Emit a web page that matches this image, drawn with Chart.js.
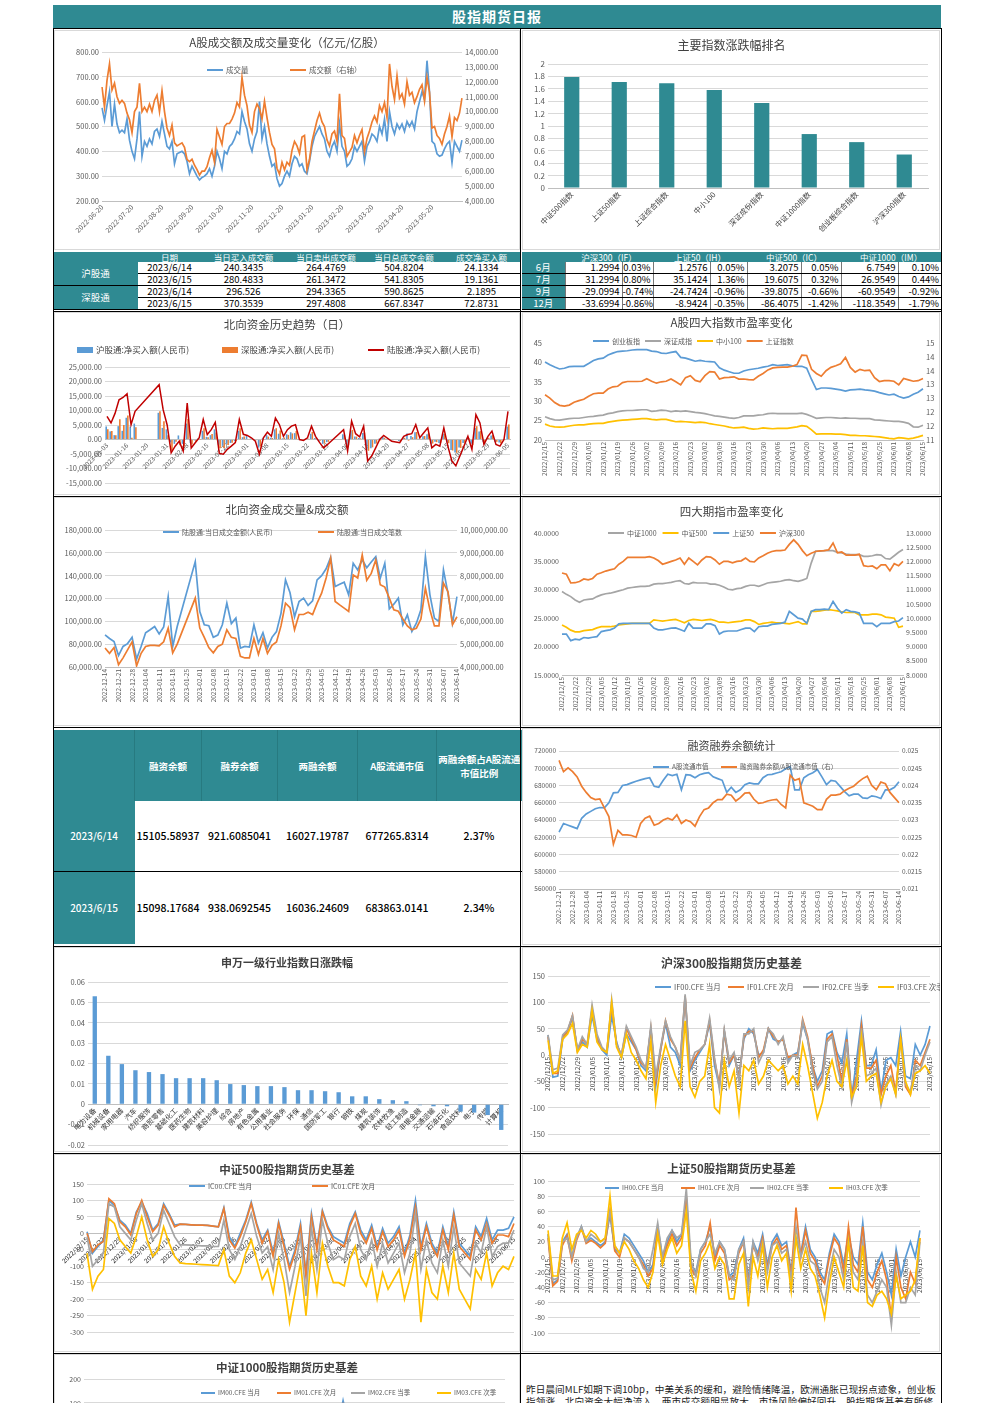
<!DOCTYPE html>
<html><head><meta charset="utf-8">
<script src="https://cdn.jsdelivr.net/npm/chart.js@4.4.0/dist/chart.umd.min.js"></script>
<style>
body{margin:0;width:992px;height:1403px;overflow:hidden;background:#fff;position:relative;font-family:"Noto Sans CJK SC","Noto Sans",sans-serif}
canvas{position:absolute}
.d{position:absolute}
.hdr{left:53px;top:5px;width:888px;height:23px;background:#2F8A92;color:#fff;font-size:14px;font-weight:bold;text-align:center;line-height:23px;letter-spacing:1px}
.bk{position:absolute;background:#000}
.pn{position:absolute;border:1px solid #D9D9D9;box-sizing:border-box}
table.t{position:absolute;border-collapse:collapse;table-layout:fixed;font-size:9.5px;color:#000}
table.t td{padding:0;text-align:center;white-space:nowrap;overflow:hidden;height:11px;line-height:11px;border-bottom:1px solid #000}
table.t tr.h td{background:#2F8A92;color:#fff;font-size:8.5px;height:10px;line-height:10px;border-bottom:none}
table.t td.lab{background:#2F8A92;color:#fff;font-size:9.5px}
table.t td.r{text-align:right;padding-right:2px;border-left:1px solid #777}
table.t2{position:absolute;border-collapse:collapse;table-layout:fixed;color:#000}
table.t2 td{padding:0 1px;text-align:center;font-size:10.5px;font-weight:500;white-space:nowrap;overflow:hidden}
table.t2 tr.h td{background:#2F8A92;color:#fff;font-size:9.5px;font-weight:bold;white-space:normal;line-height:14px;border-left:1px solid #277a80}
table.t2 td.lab{background:#2F8A92;color:#fff;font-size:10px}
.txt{left:526px;top:1383px;width:414px;font-size:9.6px;line-height:12px;color:#222;letter-spacing:0.1px}
</style></head><body>
<div class="d hdr">股指期货日报</div>

<div class="pn" style="left:54px;top:30px;width:466px;height:220px"></div>
<div class="pn" style="left:522px;top:30px;width:418px;height:220px"></div>
<div class="pn" style="left:54px;top:312px;width:466px;height:183px"></div>
<div class="pn" style="left:522px;top:312px;width:418px;height:183px"></div>
<div class="pn" style="left:54px;top:497px;width:466px;height:229px"></div>
<div class="pn" style="left:522px;top:497px;width:418px;height:229px"></div>
<div class="pn" style="left:522px;top:728px;width:418px;height:217px"></div>
<div class="pn" style="left:54px;top:947px;width:466px;height:205px"></div>
<div class="pn" style="left:522px;top:947px;width:418px;height:205px"></div>
<div class="pn" style="left:54px;top:1154px;width:466px;height:198px"></div>
<div class="pn" style="left:522px;top:1154px;width:418px;height:198px"></div>
<div class="pn" style="left:54px;top:1354px;width:466px;height:60px"></div>

<table class="t" style="left:53px;top:252px;width:468px">
<colgroup><col style="width:85px"><col style="width:63px"><col style="width:85px"><col style="width:80px"><col style="width:76px"><col style="width:79px"></colgroup>
<tr class="h"><td></td><td>日期</td><td>当日买入成交额</td><td>当日卖出成交额</td><td>当日总成交金额</td><td>成交净买入额</td></tr>
<tr><td class="lab" rowspan="2">沪股通</td><td>2023/6/14</td><td>240.3435</td><td>264.4769</td><td>504.8204</td><td>24.1334</td></tr>
<tr><td>2023/6/15</td><td>280.4833</td><td>261.3472</td><td>541.8305</td><td>19.1361</td></tr>
<tr><td class="lab" rowspan="2">深股通</td><td>2023/6/14</td><td>296.526</td><td>294.3365</td><td>590.8625</td><td>2.1895</td></tr>
<tr><td>2023/6/15</td><td>370.3539</td><td>297.4808</td><td>667.8347</td><td>72.8731</td></tr>
</table>

<table class="t" style="left:522px;top:252px;width:419px">
<colgroup><col style="width:43px"><col style="width:57px"><col style="width:31px"><col style="width:57px"><col style="width:37px"><col style="width:54px"><col style="width:40px"><col style="width:57px"><col style="width:43px"></colgroup>
<tr class="h"><td></td><td colspan="2">沪深300（IF）</td><td colspan="2">上证50（IH）</td><td colspan="2">中证500（IC）</td><td colspan="2">中证1000（IM）</td></tr>
<tr><td class="lab">6月</td><td class="r">1.2994</td><td class="r">0.03%</td><td class="r">1.2576</td><td class="r">0.05%</td><td class="r">3.2075</td><td class="r">0.05%</td><td class="r">6.7549</td><td class="r">0.10%</td></tr>
<tr><td class="lab">7月</td><td class="r">31.2994</td><td class="r">0.80%</td><td class="r">35.1424</td><td class="r">1.36%</td><td class="r">19.6075</td><td class="r">0.32%</td><td class="r">26.9549</td><td class="r">0.44%</td></tr>
<tr><td class="lab">9月</td><td class="r">-29.0994</td><td class="r">-0.74%</td><td class="r">-24.7424</td><td class="r">-0.96%</td><td class="r">-39.8075</td><td class="r">-0.66%</td><td class="r">-60.9549</td><td class="r">-0.92%</td></tr>
<tr><td class="lab">12月</td><td class="r">-33.6994</td><td class="r">-0.86%</td><td class="r">-8.9424</td><td class="r">-0.35%</td><td class="r">-86.4075</td><td class="r">-1.42%</td><td class="r">-118.3549</td><td class="r">-1.79%</td></tr>
</table>

<table class="t2" style="left:53px;top:730px;width:468px;height:214px">
<colgroup><col style="width:81px"><col style="width:67px"><col style="width:76px"><col style="width:80px"><col style="width:79px"><col style="width:85px"></colgroup>
<tr class="h" style="height:71px"><td></td><td>融资余额</td><td>融券余额</td><td>两融余额</td><td>A股流通市值</td><td>两融余额占A股流通市值比例</td></tr>
<tr style="height:70px;border-bottom:1px solid #000"><td class="lab">2023/6/14</td><td>15105.58937</td><td>921.6085041</td><td>16027.19787</td><td>677265.8314</td><td>2.37%</td></tr>
<tr style="height:73px"><td class="lab">2023/6/15</td><td>15098.17684</td><td>938.0692545</td><td>16036.24609</td><td>683863.0141</td><td>2.34%</td></tr>
</table>

<div class="d txt">昨日晨间MLF如期下调10bp，中美关系的缓和，避险情绪降温，欧洲通胀已现拐点迹象，创业板指领涨，北向资金大幅净流入，两市成交额明显放大，市场风险偏好回升，股指期货基差有所修复。</div>

<div class="bk" style="left:53px;top:28px;width:889px;height:1px"></div>
<div class="bk" style="left:53px;top:28px;width:1px;height:1375px"></div>
<div class="bk" style="left:941px;top:28px;width:1px;height:1375px"></div>
<div class="bk" style="left:520px;top:28px;width:1px;height:1375px"></div>
<div class="bk" style="left:53px;top:311px;width:889px;height:1px"></div>
<div class="bk" style="left:53px;top:496px;width:889px;height:1px"></div>
<div class="bk" style="left:53px;top:727px;width:889px;height:1px"></div>
<div class="bk" style="left:53px;top:946px;width:889px;height:1px"></div>
<div class="bk" style="left:53px;top:1153px;width:889px;height:1px"></div>
<div class="bk" style="left:53px;top:1353px;width:889px;height:1px"></div>

<script>
// ---------- DATA ----------
const volTicks = ['2022-06-20','2022-07-20','2022-08-20','2022-09-20','2022-10-20','2022-11-20','2022-12-20','2023-01-20','2023-02-20','2023-03-20','2023-04-20','2023-05-20'];
const volume = [575,525,585,640,500,590,510,475,485,475,530,445,400,370,450,560,380,440,420,450,430,480,490,460,520,470,420,410,440,350,390,395,400,390,360,310,340,320,300,285,295,300,310,330,300,340,400,370,330,400,390,420,430,450,480,470,560,520,490,430,400,450,480,600,450,500,430,380,340,350,290,260,270,300,320,300,350,380,370,340,350,320,310,360,420,460,480,500,470,450,400,380,420,440,400,510,420,400,340,350,370,420,400,420,440,360,420,440,470,460,440,500,470,530,440,560,500,470,510,490,510,480,520,500,520,490,560,600,640,610,765,640,440,430,390,380,385,410,430,440,355,440,420,400,445];
const turnover = [11650,10300,12100,13200,11450,11900,11000,10550,10750,10550,9900,9450,8600,10000,10300,11900,10000,10300,10000,10500,10000,10750,11100,10000,11400,10000,8900,8400,9100,7900,7700,7800,7900,7600,6800,6650,6800,6400,6100,5750,6000,6000,6300,6900,7400,6600,8800,8300,7800,9000,9200,9200,9500,9900,10600,10300,12300,11100,10400,9100,8600,10000,10500,10200,9500,10700,9600,8600,7800,7500,6200,5800,6600,6100,6600,6400,7400,8000,7700,7200,8300,8400,6100,6800,8000,8700,9400,9900,9300,9000,8100,7700,8500,8700,8000,11200,8400,8200,7000,7300,7600,8400,7900,8400,8800,7300,8200,8700,9300,9700,9300,10400,10000,10600,9600,13200,11700,10800,12400,10900,11200,10500,12000,11100,11300,10600,11000,11500,11800,10700,12300,11300,8900,9000,8400,8200,7800,8500,9000,9700,8300,9600,9400,9900,10900];

const idxNames = ['中证500指数','上证50指数','上证综合指数','中小100','深证成份指数','中证1000指数','创业板综合指数','沪深300指数'];
const idxChg = [1.79,1.71,1.69,1.58,1.37,0.87,0.74,0.54];

const nbTicks = ['2023-01-03','2023-01-16','2023-01-20','2023-01-31','2023-02-08','2023-02-15','2023-02-22','2023-03-01','2023-03-08','2023-03-15','2023-03-22','2023-03-29','2023-04-06','2023-04-13','2023-04-20','2023-04-27','2023-05-08','2023-05-15','2023-05-22','2023-05-29','2023-06-05'];
const n = null;
const nbHu = [4500,2800,1500,4600,3000,7500,4500,5500,n,n,n,n,n,9200,4000,3500,-1000,-1500,1400,-1500,5500,-1200,-300,500,3000,900,1500,3500,-1800,-2200,-1500,-1200,-500,3000,800,1400,300,-300,-2800,400,1500,600,3500,2000,400,1800,2500,2200,200,-200,300,2000,500,-600,-1500,-900,n,n,n,1800,-2000,3000,1000,500,2200,-3500,-3000,-1500,300,800,n,-400,n,-500,500,2100,1200,2500,300,1100,1800,-1500,-800,-1200,2000,-1000,-3600,-4500,-2800,-1200,600,-1500,4000,2800,-800,500,1400,-900,-1000,200,4500];
const nbShen = [3500,2900,1500,7000,5000,8300,600,4200,n,n,n,n,n,9700,6300,1500,-3600,-800,-2000,-2500,7100,-1700,-800,100,3900,800,1900,2400,-3000,-2900,-1900,-1100,-600,3900,1000,0,300,-300,-2300,200,1000,500,3900,3100,700,1600,2100,2900,-200,-100,300,2600,600,-400,-1400,-800,n,n,n,1600,-2000,3300,1000,400,2400,-3900,-2700,-1400,-300,600,n,-200,n,-600,600,-400,800,2600,300,1200,2200,-1400,-900,-1100,2000,-1300,-3800,-4600,-2900,-1100,500,-1900,4600,2900,-900,600,1500,-800,-1300,-200,5200];
const nbLu = [8000,5700,9000,13700,14500,15800,5100,9700,n,n,n,n,n,18900,10300,5000,-4600,-2300,-600,-4000,12600,-2900,-1100,600,6900,1700,3400,5900,-4800,-5100,-3400,-2300,-1100,6900,1800,1400,600,-600,-5100,600,2500,1100,7400,5100,1100,3400,4600,5100,0,-300,600,4600,1100,-1000,-2900,-1700,n,n,n,3400,-4000,6300,2000,900,4600,-7400,-5700,-2900,0,1400,n,-600,n,-1100,1100,1700,2000,5100,600,2300,4000,-2900,-1700,-2300,4000,-2300,-7400,-9100,-5700,-2300,1100,-3400,8600,5700,-1700,1100,2900,-1700,-2300,0,9700];

const weekTicks = ['2022/12/15','2022/12/22','2022/12/29','2023/01/05','2023/01/12','2023/01/19','2023/01/26','2023/02/02','2023/02/09','2023/02/16','2023/02/23','2023/03/02','2023/03/09','2023/03/16','2023/03/23','2023/03/30','2023/04/06','2023/04/13','2023/04/20','2023/04/27','2023/05/04','2023/05/11','2023/05/18','2023/05/25','2023/06/01','2023/06/08','2023/06/15'];
const peCYB = [40.1,39.4,38.8,38.3,38.5,38.9,39.0,39.0,39.0,39.7,40.5,40.9,41.1,41.9,42.4,42.8,42.9,43.0,43.2,43.3,43.3,43.3,42.9,42.8,42.4,42.3,42.6,42.8,41.3,41.1,40.7,40.3,40.5,40.3,40.2,40.1,38.6,38.0,37.6,37.2,37.2,37.8,38.1,38.3,38.5,38.8,39.0,39.4,39.2,39.3,39.4,39.1,39.0,39.0,38.5,35.6,33.0,33.4,33.4,33.3,33.1,32.9,32.6,32.9,33.0,33.1,32.9,32.8,32.6,32.2,31.9,31.6,31.8,31.2,30.8,31.1,31.8,32.3,33.2];
const peSZ = [26.0,25.5,25.2,25.1,25.3,25.5,25.6,25.6,25.8,26.0,26.1,26.3,26.4,26.8,27.0,27.3,27.5,27.6,27.6,27.7,27.8,27.8,27.4,27.5,27.7,27.6,27.3,27.5,27.4,27.5,27.3,27.1,27.0,26.8,26.5,26.2,26.1,25.9,25.7,25.6,25.8,26.2,26.2,26.2,26.4,26.5,26.8,26.9,26.8,26.8,26.8,26.8,26.8,26.9,26.6,26.1,25.6,25.7,25.8,25.8,25.7,25.6,25.7,25.6,25.6,25.5,25.5,25.5,25.2,25.1,25.0,24.9,24.8,24.8,24.6,24.3,23.4,23.3,23.8];
const peZX = [24.1,23.6,23.4,23.3,23.4,23.6,23.8,23.9,23.9,24.1,24.2,24.3,24.3,24.6,24.8,25.0,25.1,25.2,25.3,25.4,25.5,25.5,25.3,25.2,25.3,25.3,25.0,24.7,24.8,24.7,24.6,24.5,24.6,24.5,24.2,24.0,23.8,23.6,23.3,23.1,23.2,23.3,23.0,22.8,22.9,23.1,23.0,22.9,23.0,23.0,23.0,23.2,23.4,23.7,23.5,22.6,21.5,21.6,21.6,21.6,21.5,21.5,21.4,21.2,21.2,21.1,21.1,21.0,20.9,20.8,20.6,20.4,20.3,20.6,20.5,20.3,20.5,20.8,21.2];
const peSH = [12.63,12.51,12.35,12.25,12.22,12.26,12.36,12.42,12.47,12.58,12.67,12.69,12.69,12.84,12.92,12.94,13.07,13.11,13.11,13.11,13.12,13.21,13.12,13.05,13.10,13.12,13.20,13.10,12.99,13.25,13.32,13.15,13.10,13.32,13.47,13.45,13.20,13.25,13.26,13.28,13.20,13.20,13.18,13.17,13.30,13.40,13.53,13.60,13.62,13.63,13.63,13.66,13.72,14.06,14.05,13.55,13.40,13.30,13.50,13.62,13.68,13.75,13.98,13.62,13.45,13.55,13.50,13.52,13.25,13.11,13.14,13.14,13.12,12.99,13.22,13.17,13.12,13.14,13.22];

const nvTicks = ['2022-12-14','2022-12-21','2022-12-28','2023-01-04','2023-01-11','2023-01-18','2023-01-25','2023-02-01','2023-02-08','2023-02-15','2023-02-22','2023-03-01','2023-03-08','2023-03-15','2023-03-22','2023-03-29','2023-04-05','2023-04-12','2023-04-19','2023-04-26','2023-05-03','2023-05-10','2023-05-17','2023-05-24','2023-05-31','2023-06-07','2023-06-14'];
const nvAmt = [88200,85000,82400,70000,78000,80500,86000,67000,78000,90000,92600,95500,89000,95000,121700,78000,95500,n,n,n,152300,108600,97000,96100,86000,88000,97000,116000,98000,102800,76600,78000,77500,97000,81000,90000,76600,86000,91000,107000,136300,125000,104000,117400,120300,114000,118000,136300,140000,146000,156000,130500,132500,134300,123200,150900,145000,154000,147000,152000,156700,137800,150900,111000,115000,120300,97000,105700,91200,98400,110100,156700,123200,102800,100000,145000,124700,98400,121700];
const nvCnt = [4832000,4600000,4850000,4100000,4400000,4750000,5100000,4050000,4600000,4900000,4950000,4950000,4930000,5100000,5700000,4614000,5000000,n,n,n,7016000,5706000,5300000,4850000,4620000,4900000,5000000,5633000,5300000,5250000,4469000,4396000,4396000,5250000,4550000,5250000,4600000,4950000,5100000,5800000,6798000,6600000,5633000,6300000,6300000,6400000,6300000,6800000,7234000,7900000,8763000,6870000,6720000,6580000,6434000,8035000,7900000,8908000,7800000,8100000,8690000,7600000,7500000,7016000,6500000,6440000,6100000,5800000,5633000,5700000,6100000,7453000,6500000,5800000,5800000,7671000,7300000,5851000,6200000];

const pfZZ1000 = [29.7,29.2,28.8,28.2,27.8,28.2,28.3,28.4,28.8,29.1,29.3,29.4,29.6,29.8,30.0,30.3,30.4,30.5,30.6,30.6,30.7,31.0,31.1,31.1,31.2,31.3,31.5,31.6,31.1,31.0,31.3,31.2,31.2,31.2,31.0,31.0,30.8,30.5,30.1,30.0,30.2,30.3,30.6,30.8,30.8,30.6,30.9,31.2,31.3,31.4,31.5,31.7,31.8,31.6,31.5,31.7,32.0,34.7,36.8,36.8,36.9,36.9,36.9,36.6,36.5,36.3,36.2,36.2,36.2,35.9,35.9,36.0,36.2,36.1,35.5,35.4,36.0,36.6,37.1];
const pfZZ500 = [23.8,23.4,22.9,22.6,22.6,22.8,22.9,23.0,23.3,23.5,23.5,23.5,23.6,23.8,23.9,24.0,24.1,24.1,24.1,24.1,24.1,24.7,24.6,24.5,24.6,24.7,24.8,24.5,24.2,24.6,24.8,24.7,24.6,24.7,24.8,24.6,24.3,24.3,24.2,24.3,24.4,24.5,24.7,24.7,24.4,23.9,24.1,24.2,24.3,24.2,24.2,24.1,24.0,24.2,24.4,24.0,24.0,26.2,26.2,26.3,26.4,26.5,26.4,26.3,26.1,26.0,26.0,26.0,25.6,25.6,25.6,25.7,25.7,25.6,25.2,25.1,25.0,23.4,23.6];
const pfSZ50 = [9.44,9.44,9.21,9.26,9.24,9.32,9.30,9.33,9.35,9.53,9.56,9.59,9.65,9.80,9.82,9.82,9.82,9.82,9.82,9.82,9.82,9.65,9.59,9.59,9.62,9.65,9.66,9.60,9.54,9.82,9.65,9.65,9.65,9.80,9.80,9.74,9.44,9.53,9.55,9.55,9.55,9.60,9.65,9.65,9.53,9.70,9.72,9.72,9.78,9.80,9.82,9.86,10.24,10.12,10.00,9.97,9.82,10.24,10.30,10.30,10.32,10.30,10.59,10.35,10.18,10.30,10.24,10.22,10.18,9.82,9.82,9.82,9.70,9.82,9.82,9.82,9.88,9.90,10.02];
const pfHS300 = [11.59,11.55,11.24,11.25,11.29,11.38,11.35,11.40,11.55,11.60,11.66,11.70,11.74,11.90,12.0,12.14,12.14,12.14,12.14,12.14,12.17,12.12,12.03,11.90,11.95,12.0,12.05,12.12,11.90,12.12,12.0,11.88,12.05,12.17,12.15,12.05,11.90,12.0,12.0,11.95,12.0,12.02,12.12,12.0,11.98,12.12,12.20,12.29,12.35,12.38,12.38,12.40,12.60,12.76,12.60,12.38,12.20,12.29,12.35,12.37,12.38,12.41,12.65,12.30,12.33,12.22,12.22,12.22,12.25,11.85,11.82,11.84,11.74,11.88,11.88,11.67,11.92,11.85,12.0];

const mgTicks = ['2022-12-21','2022-12-28','2023-01-04','2023-01-11','2023-01-18','2023-01-25','2023-02-01','2023-02-08','2023-02-15','2023-02-22','2023-03-01','2023-03-08','2023-03-15','2023-03-22','2023-03-29','2023-04-05','2023-04-12','2023-04-19','2023-04-26','2023-05-03','2023-05-10','2023-05-17','2023-05-24','2023-05-31','2023-06-07','2023-06-14'];
const mgCap = [626000,636000,634000,632000,630000,642000,647000,650000,653000,654500,654000,660000,671500,672000,680000,681000,683000,685000,686500,688000,689000,679000,678000,686000,693000,691500,693000,675000,692500,692000,689000,692500,694000,694800,690000,688000,686000,672000,678000,672000,675000,681000,683000,682000,682000,689000,692500,693000,694500,696000,699500,702000,675000,675000,689000,692500,694800,698600,690000,681000,686000,685000,679000,673000,668000,670000,670000,665600,665000,668000,667000,665000,675000,675000,678000,684300];
const mgRatio = [0.02473,0.02440,0.02451,0.02440,0.02425,0.02398,0.02380,0.02365,0.02359,0.02361,0.02335,0.02310,0.02230,0.02270,0.02257,0.02257,0.02255,0.02250,0.02290,0.02305,0.02311,0.02285,0.02290,0.02300,0.02305,0.02300,0.02315,0.02290,0.02300,0.02295,0.02282,0.02310,0.02330,0.02335,0.02350,0.02359,0.02359,0.02375,0.02372,0.02355,0.02365,0.02378,0.02379,0.02360,0.02348,0.02350,0.02355,0.02358,0.02360,0.02345,0.02335,0.02430,0.02415,0.02420,0.02350,0.02345,0.02340,0.02330,0.02330,0.02360,0.02372,0.02372,0.02375,0.02385,0.02392,0.02398,0.02410,0.02420,0.02427,0.02400,0.02388,0.02410,0.02405,0.02380,0.02365,0.02350];

const swNames = ['电力设备','机械设备','家用电器','汽车','纺织服饰','商贸零售','基础化工','医药生物','建筑材料','美容护理','综合','房地产','有色金属','公用事业','社会服务','环保','通信','国防军工','银行','钢铁','煤炭','建筑装饰','农林牧渔','轻工制造','非银金融','交通运输','石油石化','食品饮料','电子','传媒','计算机'];
const swChg = [0.053,0.0238,0.0197,0.0167,0.0158,0.0148,0.0128,0.0128,0.0128,0.0118,0.0099,0.0094,0.0089,0.0089,0.0084,0.0069,0.0069,0.0064,0.0059,0.0039,0.0039,0.0025,0.0020,0.0015,-0.0005,-0.0010,-0.0010,-0.0036,-0.0041,-0.0053,-0.0126];

const IF00 = [38,-42,-40,30,45,70,10,25,15,75,30,10,0,75,25,-5,40,25,10,-20,-30,50,-60,10,60,15,5,-20,110,-30,-10,5,20,60,-20,-60,45,-20,0,-40,30,50,40,0,5,50,30,25,30,-10,0,5,60,30,-20,-50,-30,40,45,5,-15,40,-80,-10,65,-20,-20,10,-70,-10,-5,-20,45,-40,-45,20,0,20,55];
const IF01 = [35,-35,-35,35,45,75,8,30,20,88,35,12,5,95,20,0,50,30,10,-15,-25,50,-50,10,65,30,15,-10,112,-25,-5,10,20,65,-10,-55,45,-15,0,-45,35,45,45,-5,10,50,35,25,30,-5,0,0,68,35,-20,-60,-40,30,40,0,-50,30,-80,-40,55,-25,-25,-10,-75,-40,-20,-70,35,-60,-75,-10,-20,5,30];
const IF02 = [38,-28,-25,38,48,75,10,35,20,95,40,15,5,105,20,0,55,35,15,-10,-25,55,-40,15,65,35,15,-10,115,-20,5,10,20,70,-5,-65,48,-10,5,-50,40,40,50,-15,5,50,40,20,35,-15,0,-5,65,30,-30,-65,-50,25,35,-20,-60,25,-90,-50,50,-40,-35,-25,-95,-55,-40,-75,30,-55,-70,-20,-30,0,25];
const IF03 = [28,-35,-30,30,40,60,5,20,15,85,25,10,5,100,15,-5,40,5,-10,-30,-45,25,-90,-20,20,-10,-40,-60,65,-60,-80,-50,-40,20,-100,-110,-10,-60,-30,-110,-20,-30,-10,-55,-40,-10,-20,-30,-20,-55,-40,-55,20,-20,-70,-120,-90,-40,-10,-50,-60,-10,-80,-60,35,-50,-40,-35,-90,-60,-45,-75,30,-50,-75,-35,-30,-20,-35];

const IC00 = [5,-60,-40,-20,100,85,40,25,0,65,95,60,10,30,90,60,25,28,27,26,25,25,24,22,20,78,-10,-40,0,40,95,30,-20,10,-60,35,-30,-100,-50,30,-120,60,-40,70,20,-10,-20,-30,30,65,10,-20,25,-40,15,-30,-10,20,-60,-5,100,-40,30,-30,-60,20,-40,65,-30,-50,-70,20,-10,45,-20,10,10,15,50];
const IC01 = [0,-55,-35,-25,105,90,35,20,-5,60,100,50,5,25,85,55,20,28,27,26,25,25,24,22,20,75,-20,-45,-10,35,90,25,-30,5,-70,30,-40,-110,-60,20,-130,50,-50,65,15,-20,-30,-40,20,60,0,-30,15,-50,5,-40,-20,10,-70,-15,80,-50,20,-40,-70,10,-50,55,-40,-60,-80,10,-20,30,-30,-5,-5,-10,30];
const IC02 = [-10,-100,-80,-60,90,80,20,0,-20,40,90,30,-20,0,70,30,-10,-35,-35,-36,-37,-38,-38,-40,-40,40,-50,-80,-40,10,60,-10,-60,-40,-110,0,-80,-180,-100,-10,-190,20,-110,40,-30,-80,-70,-80,-10,30,-50,-80,-20,-100,-30,-90,-60,-30,-120,-60,60,-110,-20,-90,-120,-20,-100,20,-90,-110,-130,-30,-60,20,-70,-40,-30,-30,10];
const IC03 = [-60,-170,-130,-110,45,30,-20,-40,-60,-10,50,-20,-70,-50,20,-30,-70,-90,-92,-93,-94,-95,-96,-97,-98,-50,-130,-150,-120,-60,-20,-80,-140,-110,-180,-80,-150,-270,-180,-90,-250,-60,-180,-30,-100,-150,-150,-160,-80,-40,-130,-160,-100,-200,-120,-170,-140,-110,-200,-140,-60,-270,-110,-180,-200,-100,-180,-60,-170,-200,-230,-110,-140,-60,-160,-120,-100,-110,-70];

const IH00 = [30,-35,-30,20,30,0,25,40,20,25,20,15,20,55,10,5,30,25,15,5,-5,-20,-10,40,0,20,35,20,30,75,-10,-20,10,20,40,0,20,10,-25,-20,10,25,-30,20,5,30,-10,20,30,15,20,-20,25,5,40,10,0,-20,-30,5,30,20,-10,30,0,-10,45,-20,-30,-10,5,-20,-50,10,-25,0,20,0,35];
const IH01 = [25,-38,-32,15,28,-5,22,38,18,22,18,12,18,62,8,0,25,20,10,0,-10,-25,-15,35,-5,15,30,15,25,80,-15,-25,5,15,45,-5,15,5,-30,-25,5,20,-35,15,0,25,-15,15,25,10,15,-25,65,0,35,5,-5,-25,-35,0,25,15,-20,40,-10,-20,40,-30,-40,-20,-5,-30,-80,0,-40,-55,-20,-35,25];
const IH02 = [30,-30,-28,20,25,0,25,40,20,30,25,20,25,60,15,5,25,20,10,0,-15,-20,10,45,0,25,35,25,30,90,-5,-25,10,20,30,5,20,10,-25,-30,10,20,-40,20,-5,20,-20,15,20,5,10,-30,40,0,20,-5,-10,-40,-60,-20,10,0,-30,20,-20,-30,20,-50,-60,-45,-30,-40,-90,-20,-60,-60,-40,-50,20];
const IH03 = [35,-25,-25,25,45,10,30,35,25,35,30,20,25,80,15,5,20,10,-5,-15,-30,-40,-20,30,-10,10,25,5,15,60,-20,-45,-5,5,20,-15,0,-10,-55,-55,-10,5,-65,0,-25,15,-40,0,15,-5,5,-45,25,-15,10,-15,-25,-50,-80,-35,0,-20,-40,20,-40,-45,15,-60,-65,-50,-45,-55,-75,-25,-55,-50,-45,-30,25];

const IM00 = [20,-60,-30,60,40,-20,30,10,-40,20,50,-10,-30,-20,-50,10,-40,-80,-30,20,-60,-10,30,-50,-20,0,-70,-40,10,-30,-20,-60,110,-40,-80,-20,30,-60,-100,-40,-10,-70,-20,20,-50,-90,-30,-60,-10,-80,-40,-20,30];
const IM01 = [10,-70,-40,50,30,-30,20,0,-50,10,40,-20,-40,-30,-60,0,-50,-90,-40,10,-70,-20,20,-60,-30,-10,-80,-50,0,-40,-30,-70,90,-50,-90,-30,20,-70,-110,-50,-20,-80,-30,10,-60,-100,-40,-70,-20,-90,-50,-30,20];
const IM02 = [-10,-100,-70,30,10,-60,0,-30,-80,-20,10,-50,-70,-60,-90,-30,-80,-130,-70,-20,-100,-50,-10,-90,-60,-40,-110,-80,-30,-70,-60,-100,60,-80,-130,-60,-10,-100,-150,-80,-50,-110,-60,-20,-90,-140,-70,-100,-50,-120,-80,-60,-10];
const IM03 = [-60,-170,-130,-20,-50,-120,-60,-90,-150,-80,-50,-110,-140,-130,-170,-100,-160,-230,-150,-90,-190,-120,-80,-180,-140,-110,-200,-160,-100,-150,-140,-190,0,-170,-240,-140,-80,-190,-260,-160,-120,-210,-130,-80,-180,-250,-150,-190,-120,-230,-170,-140,-90];

// ---------- HELPERS ----------
const FONT = '"Noto Sans CJK SC","Noto Sans",sans-serif';
const TEAL='#2F8A92', BLUE='#5B9BD5', ORANGE='#ED7D31', GRAY='#A5A5A5', YELLOW='#FFC000', DRED='#C00000', GRID='#D9D9D9';
Chart.defaults.font.family = FONT;
Chart.defaults.font.size = 8;
Chart.defaults.color = '#595959';

function spread(ticks, step, len){ const a = new Array(len).fill(''); ticks.forEach((t,i)=>{ if(i*step < len) a[i*step] = t; }); return a; }
function zp(s){ s.paddingTop=0; s.paddingBottom=0; s.paddingLeft=0; s.paddingRight=0; }
function fitW(w){ return s => { s.width = w; zp(s); }; }
function fitH(h){ return s => { s.height = h; zp(s); }; }
const f2 = v => Number(v).toLocaleString('en-US',{minimumFractionDigits:2,maximumFractionDigits:2});

function yAx(pos, w, min, max, step, fmt, grid, size){
  return {position:pos, min, max,
    ticks:{stepSize:step, callback:fmt, padding:3, autoSkip:false, maxTicksLimit:100, font:{size:size||8}, color:'#595959'},
    grid:{display:!!grid, color:GRID, drawTicks:false}, border:{display:false}, afterFit:fitW(w)};
}
function xAx(rot, size, h, extra, color){
  return Object.assign({type:'category',
    ticks:{autoSkip:false, minRotation:rot, maxRotation:rot, font:{size}, padding:2, color:color||'#595959'},
    grid:{display:false, drawTicks:false}, border:{color:'#BFBFBF'},
    afterFit: h==null ? zp : fitH(h)}, extra||{});
}
function ln(label, data, color, axis, order, extra){
  return Object.assign({type:'line', label, data, borderColor:color, backgroundColor:color, yAxisID:axis||'y',
    order:order||0, borderWidth:1.7, pointRadius:0, spanGaps:true, tension:0}, extra||{});
}
function decoP(d){ return {id:'deco', afterDraw(chart){
  const ctx = chart.ctx; ctx.save();
  if(d.title){ const t=d.title;
    ctx.font = `${t.w||'normal'} ${t.size||11.5}px ${FONT}`; ctx.fillStyle = t.color||'#404040';
    ctx.textAlign='center'; ctx.textBaseline='middle';
    ctx.fillText(t.text, t.x!=null?t.x:chart.width/2, t.y); }
  if(d.leg){ const g=d.leg;
    ctx.font = `${g.size||8}px ${FONT}`; ctx.textAlign='left'; ctx.textBaseline='middle';
    const items = chart.data.datasets.filter(s=>!s.hideLeg);
    const sw = g.sw||16, gap = g.gap||10;
    const widths = items.map(s => sw + 3 + ctx.measureText(s.label).width);
    const total = widths.reduce((a,b)=>a+b,0) + gap*(items.length-1);
    let x = g.x!=null ? g.x : (chart.width-total)/2;
    items.forEach((s,i)=>{
      const px = g.xs ? g.xs[i] : x;
      if((s.type||chart.config.type)==='bar'){ ctx.fillStyle=s.backgroundColor; ctx.fillRect(px, g.y-3, sw, 6); }
      else { ctx.strokeStyle=s.borderColor; ctx.lineWidth=2; ctx.beginPath(); ctx.moveTo(px,g.y); ctx.lineTo(px+sw,g.y); ctx.stroke(); }
      ctx.fillStyle = g.color||'#595959';
      ctx.fillText(s.label, px+sw+3, g.y);
      x += widths[i] + gap;
    });
  }
  ctx.restore();
}}; }
function mk(L,T,W,H,type,data,scales,pad,deco){
  const c = document.createElement('canvas'); c.width=W; c.height=H;
  c.style.left=L+'px'; c.style.top=T+'px'; document.body.appendChild(c);
  return new Chart(c,{type, data, options:{responsive:false, maintainAspectRatio:false, animation:false,
    layout:{padding:pad}, scales, plugins:{legend:{display:false}, tooltip:{enabled:false}}}, plugins:[decoP(deco)]});
}

// ---------- CHART 1: A股成交额及成交量 ----------
mk(55,31,464,218,'line',
  {labels:spread(volTicks,12,turnover.length), datasets:[
    ln('成交量', volume, BLUE, 'y', 2),
    ln('成交额（右轴）', turnover, ORANGE, 'y2', 1)]},
  {x:xAx(45,7,48),
   y:yAx('left',47,200,800,100,f2,true,7.5),
   y2:yAx('right',57,4000,14000,1000,f2,false,7.5)},
  {top:21,left:0,right:0,bottom:0},
  {title:{text:'A股成交额及成交量变化（亿元/亿股）', y:12, size:11.5}, leg:{y:39, xs:[152,235], size:7.5}});

// ---------- CHART 2: 主要指数涨跌幅排名 ----------
mk(523,31,417,218,'bar',
  {labels:idxNames, datasets:[{label:'涨跌幅', data:idxChg, backgroundColor:TEAL, barPercentage:0.32, categoryPercentage:1}]},
  {x:xAx(45,7.5,61,{offset:true},'#404040'),
   y:yAx('left',25,0,2,0.2,v=>String(parseFloat(Number(v).toFixed(1))),true,8)},
  {top:33,left:0,right:12,bottom:0},
  {title:{text:'主要指数涨跌幅排名', y:14, size:12}});

// ---------- CHART 3: 北向资金历史趋势 ----------
mk(55,313,464,181,'bar',
  {labels:spread(nbTicks,5,nbLu.length), datasets:[
    {label:'沪股通:净买入额(人民币)', data:nbHu, backgroundColor:BLUE, barPercentage:1, categoryPercentage:0.8, order:2},
    {label:'深股通:净买入额(人民币)', data:nbShen, backgroundColor:ORANGE, barPercentage:1, categoryPercentage:0.8, order:2},
    ln('陆股通:净买入额(人民币)', nbLu, DRED, 'y', 0, {borderWidth:1.5})]},
  {x:xAx(45,6.5,null,{position:{y:0}, offset:true}),
   y:yAx('left',50,-15000,25000,5000,f2,true,7.5)},
  {top:54,left:0,right:9,bottom:11},
  {title:{text:'北向资金历史趋势（日）', y:12, size:11.5}, leg:{y:37, xs:[22,167,313], size:8.5, color:'#404040'}});

// ---------- CHART 4: A股四大指数市盈率变化 ----------
mk(523,313,417,181,'line',
  {labels:spread(weekTicks,3,peCYB.length), datasets:[
    ln('创业板指', peCYB, BLUE, 'y', 4),
    ln('深证成指', peSZ, GRAY, 'y', 3),
    ln('中小100', peZX, YELLOW, 'y', 2),
    ln('上证指数', peSH, ORANGE, 'y2', 1)]},
  {x:xAx(90,6.5,54),
   y:yAx('left',22,20,45,5,v=>String(v),false,7.5),
   y2:yAx('right',17,11,14.5,0.5,v=>String(Math.round(v)),false,7.5)},
  {top:30,left:0,right:0,bottom:0},
  {title:{text:'A股四大指数市盈率变化', y:10, size:11.5}, leg:{y:28, x:70, size:7, gap:5}});

// ---------- CHART 5: 北向资金成交量&成交额 ----------
mk(55,497,464,227,'line',
  {labels:spread(nvTicks,3,nvAmt.length), datasets:[
    ln('陆股通:当日成交金额(人民币)', nvAmt, BLUE, 'y', 2),
    ln('陆股通:当日成交笔数', nvCnt, ORANGE, 'y2', 1)]},
  {x:xAx(90,6.5,57),
   y:yAx('left',50,60000,180000,20000,f2,true,7.5),
   y2:yAx('right',62,4000000,10000000,1000000,f2,false,7.5)},
  {top:33,left:0,right:0,bottom:0},
  {title:{text:'北向资金成交量&成交额', y:13, size:11.5}, leg:{y:35, xs:[108,263], size:7}});

// ---------- CHART 6: 四大期指市盈率变化 ----------
mk(523,497,417,227,'line',
  {labels:spread(weekTicks,3,pfZZ1000.length), datasets:[
    ln('中证1000', pfZZ1000, GRAY, 'y', 4),
    ln('中证500', pfZZ500, YELLOW, 'y', 3),
    ln('上证50', pfSZ50, BLUE, 'y2', 2),
    ln('沪深300', pfHS300, ORANGE, 'y2', 1)]},
  {x:xAx(90,6.5,49),
   y:yAx('left',39,15,40,5,v=>Number(v).toFixed(4),false,7),
   y2:yAx('right',37,8,13,0.5,v=>Number(v).toFixed(4),false,7)},
  {top:36,left:0,right:0,bottom:0},
  {title:{text:'四大期指市盈率变化', y:15, size:11.5}, leg:{y:36, x:85, size:7, gap:6}});

// ---------- CHART 7: 融资融券余额统计 ----------
mk(523,730,417,214,'line',
  {labels:spread(mgTicks,3,mgCap.length), datasets:[
    ln('A股流通市值', mgCap, BLUE, 'y', 2),
    ln('融资融券余额/A股流通市值（右）', mgRatio, ORANGE, 'y2', 1)]},
  {x:xAx(90,6.5,55),
   y:yAx('left',36,560000,720000,20000,v=>String(v),true,6.5),
   y2:yAx('right',41,0.021,0.025,0.0005,v=>String(parseFloat(Number(v).toFixed(4))),false,6.5)},
  {top:21,left:0,right:0,bottom:0},
  {title:{text:'融资融券余额统计', y:16, size:11}, leg:{y:37, xs:[130,198], size:6.5}});

// ---------- CHART 8: 申万一级行业指数日涨跌幅 ----------
mk(55,948,464,203,'bar',
  {labels:swNames, datasets:[{label:'日涨跌幅', data:swChg, backgroundColor:BLUE, barPercentage:0.32, categoryPercentage:1}]},
  {x:xAx(45,7,null,{position:{y:0}, offset:true},'#333333'),
   y:yAx('left',33,-0.02,0.06,0.01,v=>String(parseFloat(Number(v).toFixed(3))),true,7.5)},
  {top:34,left:0,right:11,bottom:6},
  {title:{text:'申万一级行业指数日涨跌幅', y:15, size:11, w:'bold'}});

// ---------- CHART 9: 沪深300股指期货历史基差 ----------
mk(523,948,417,203,'line',
  {labels:spread(weekTicks,3,IF00.length), datasets:[
    ln('IF00.CFE 当月', IF00, BLUE, 'y', 4),
    ln('IF01.CFE 次月', IF01, ORANGE, 'y', 3),
    ln('IF02.CFE 当季', IF02, GRAY, 'y', 2),
    ln('IF03.CFE 次季', IF03, YELLOW, 'y', 1)]},
  {x:xAx(90,6.5,null,{position:{y:0}},'#404040'),
   y:yAx('left',25,-150,150,50,v=>String(v),true,7.5)},
  {top:28,left:0,right:10,bottom:17},
  {title:{text:'沪深300股指期货历史基差', y:15, size:12, w:'bold'}, leg:{y:39, xs:[132,205,280,355], size:7.5}});

// ---------- CHART 10: 中证500股指期货历史基差 ----------
mk(55,1155,464,195,'line',
  {labels:spread(weekTicks,3,IC00.length), datasets:[
    ln('IC00.CFE 当月', IC00, BLUE, 'y', 4),
    ln('IC01.CFE 次月', IC01, ORANGE, 'y', 3),
    ln('IC02.CFE 当季', IC02, GRAY, 'y', 2, {hideLeg:true}),
    ln('IC03.CFE 次季', IC03, YELLOW, 'y', 1, {hideLeg:true})]},
  {x:xAx(45,6.5,null,{position:{y:0}},'#222222'),
   y:yAx('left',32,-300,150,50,v=>String(v),true,7)},
  {top:29,left:0,right:5,bottom:18},
  {title:{text:'中证500股指期货历史基差', y:15, size:11.5, w:'bold'}, leg:{y:31, xs:[134,257], size:7}});

// ---------- CHART 11: 上证50股指期货历史基差 ----------
mk(523,1155,417,195,'line',
  {labels:spread(weekTicks,3,IH00.length), datasets:[
    ln('IH00.CFE 当月', IH00, BLUE, 'y', 4),
    ln('IH01.CFE 次月', IH01, ORANGE, 'y', 3),
    ln('IH02.CFE 当季', IH02, GRAY, 'y', 2),
    ln('IH03.CFE 次季', IH03, YELLOW, 'y', 1)]},
  {x:xAx(90,6.5,null,{position:{y:0}},'#404040'),
   y:yAx('left',25,-100,100,20,v=>String(v),true,7)},
  {top:26,left:0,right:20,bottom:17},
  {title:{text:'上证50股指期货历史基差', y:14, size:11.5, w:'bold'}, leg:{y:33, xs:[82,158,227,306], size:6.5, sw:14}});

// ---------- CHART 12: 中证1000股指期货历史基差 ----------
mk(55,1355,464,200,'line',
  {labels:spread(weekTicks,2,IM00.length), datasets:[
    ln('IM00.CFE 当月', IM00, BLUE, 'y', 4),
    ln('IM01.CFE 次月', IM01, ORANGE, 'y', 3),
    ln('IM02.CFE 当季', IM02, GRAY, 'y', 2),
    ln('IM03.CFE 次季', IM03, YELLOW, 'y', 1)]},
  {x:xAx(45,6.5,null,{position:{y:0}},'#404040'),
   y:yAx('left',29,-400,200,100,v=>String(v),true,7)},
  {top:24,left:0,right:14,bottom:32},
  {title:{text:'中证1000股指期货历史基差', y:13, size:11.5, w:'bold'}, leg:{y:38, xs:[146,222,296,382], size:6.5, sw:14}});
</script>
</body></html>
